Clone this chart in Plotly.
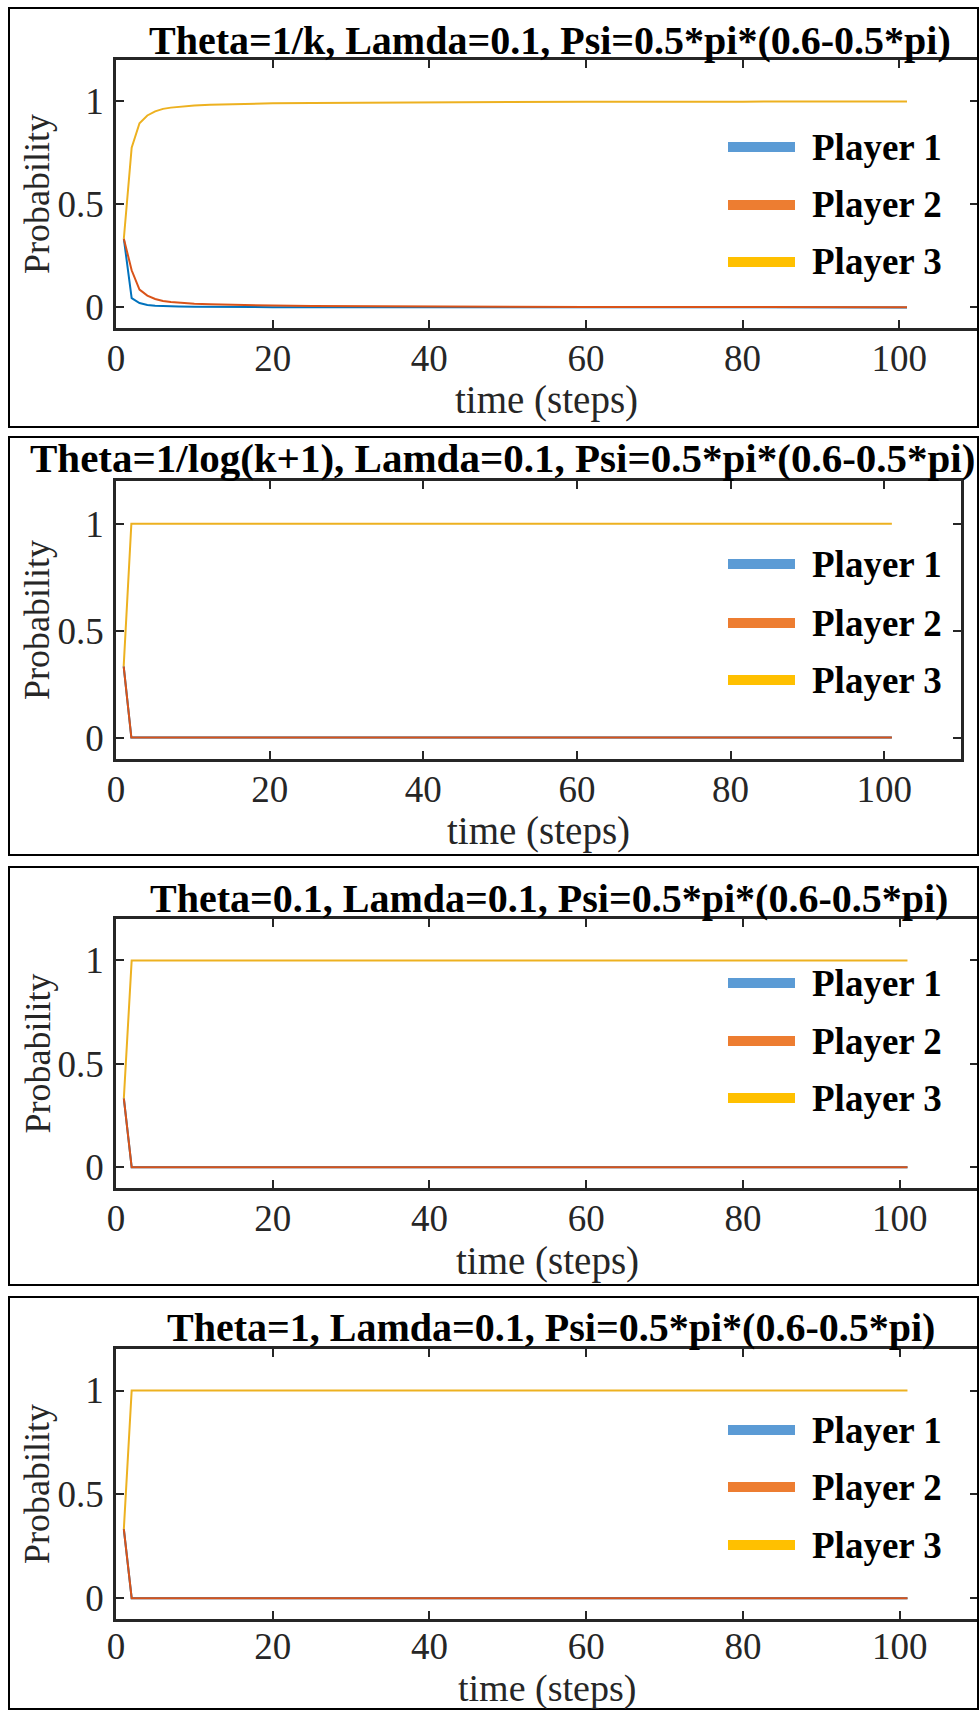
import plotly.graph_objects as go

# ---------------- data ----------------
steps_p1 = [1, 2, 3, 4, 5, 6, 7, 8, 10, 12, 15, 20, 25, 30, 40, 50, 60, 80, 101]
player1_p1 = [0.333, 0.045, 0.021, 0.012, 0.008, 0.006, 0.005, 0.004, 0.003, 0.002,
              0.002, 0.001, 0.001, 0.001, 0.000, 0.000, 0.000, 0.000, 0.000]
player2_p1 = [0.333, 0.180, 0.086, 0.057, 0.041, 0.031, 0.026, 0.023, 0.018, 0.015,
              0.012, 0.009, 0.007, 0.006, 0.004, 0.003, 0.002, 0.002, 0.001]
player3_p1 = [0.333, 0.775, 0.893, 0.931, 0.951, 0.963, 0.969, 0.973, 0.979, 0.983,
              0.986, 0.990, 0.992, 0.993, 0.996, 0.997, 0.998, 0.998, 0.999]

# Panels 2-4: immediate convergence after the first step
steps_fast = [1, 2, 101]
player1_fast = [0.333, 0.0, 0.0]
player2_fast = [0.333, 0.0, 0.0]
player3_fast = [0.333, 1.0, 1.0]

titles = [
    "Theta=1/k, Lamda=0.1, Psi=0.5*pi*(0.6-0.5*pi)",
    "Theta=1/log(k+1), Lamda=0.1, Psi=0.5*pi*(0.6-0.5*pi)",
    "Theta=0.1, Lamda=0.1, Psi=0.5*pi*(0.6-0.5*pi)",
    "Theta=1, Lamda=0.1, Psi=0.5*pi*(0.6-0.5*pi)",
]
player_names = ["Player 1", "Player 2", "Player 3"]
x_tick_vals = [0, 20, 40, 60, 80, 100]
y_tick_vals = [0, 0.5, 1]
y_tick_text = ["0", "0.5", "1"]
x_label = "time (steps)"
y_label = "Probability"

panel_series = [
    (steps_p1, [player1_p1, player2_p1, player3_p1]),
    (steps_fast, [player1_fast, player2_fast, player3_fast]),
    (steps_fast, [player1_fast, player2_fast, player3_fast]),
    (steps_fast, [player1_fast, player2_fast, player3_fast]),
]

# ---------------- style / layout ----------------
W, H = 979, 1710
def px(x):
    return x / W
def py(y):
    return 1 - y / H

line_colors = ["#0072BD", "#D95319", "#EDB120"]
legend_colors = ["#5B9BD5", "#ED7D31", "#FFC000"]
SERIF = "Liberation Serif, Times New Roman, serif"
AX = "#262626"

# pixel geometry of each panel: plot box (x0, x1, y0, y1), title pos/size, xlabel y/size,
# x tick label standoff, legend ys, frame y
panels = [
    dict(plot=(116, 977.5, 60, 328), title=(550, 40, 40), xlab=(400, 39), xstand=-4,
         leg=[147, 205, 262], frame=(8, 427)),
    dict(plot=(116, 961, 481, 759), title=(502, 458, 41), xlab=(831, 39), xstand=-4,
         leg=[564, 623, 680], frame=(437, 855)),
    dict(plot=(116, 978, 919, 1188), title=(549, 898, 40), xlab=(1261, 39), xstand=-4,
         leg=[983, 1041, 1098], frame=(867, 1285)),
    dict(plot=(116, 978, 1349, 1619), title=(551, 1327, 40), xlab=(1688, 38), xstand=-7,
         leg=[1430, 1487, 1545], frame=(1297, 1709)),
]

fig = go.Figure()
annotations = []
shapes = []
layout_axes = {}

for i, (pan, (xs, ys_list)) in enumerate(zip(panels, panel_series)):
    n = "" if i == 0 else str(i + 1)
    xa, ya = "x" + n, "y" + n
    for k, ys in enumerate(ys_list):
        fig.add_trace(go.Scatter(
            x=xs, y=ys, mode="lines", name=player_names[k],
            line=dict(color=line_colors[k], width=2),
            xaxis=xa, yaxis=ya, showlegend=False, hoverinfo="skip",
        ))
    x0, x1, y0, y1 = pan["plot"]
    common = dict(
        showline=True, linewidth=2.5, linecolor=AX, mirror="allticks",
        ticks="inside", ticklen=8, tickwidth=2, tickcolor=AX,
        showgrid=False, zeroline=False, automargin=False,
        tickfont=dict(family=SERIF, size=37, color=AX),
        fixedrange=True,
    )
    layout_axes["xaxis" + n] = dict(
        common, domain=[px(x0), px(x1)], range=[0, 110], tickmode="array",
        tickvals=x_tick_vals, anchor=ya, ticklabelstandoff=pan["xstand"],
    )
    layout_axes["yaxis" + n] = dict(
        common, domain=[py(y1), py(y0)], range=[-0.1, 1.2], tickmode="array",
        tickvals=y_tick_vals, ticktext=y_tick_text, anchor=xa, ticklabelstandoff=2,
    )
    # title
    tx, ty, tsize = pan["title"]
    annotations.append(dict(
        text="<b>%s</b>" % titles[i], x=px(tx), y=py(ty), xref="paper", yref="paper",
        xanchor="center", yanchor="middle", showarrow=False,
        font=dict(family=SERIF, size=tsize, color="black"),
    ))
    # x label
    xly, xls = pan["xlab"]
    annotations.append(dict(
        text=x_label, x=px((x0 + x1) / 2), y=py(xly), xref="paper", yref="paper",
        xanchor="center", yanchor="middle", showarrow=False,
        font=dict(family=SERIF, size=xls, color=AX),
    ))
    # y label
    annotations.append(dict(
        text=y_label, x=px(37), y=py((y0 + y1) / 2), xref="paper", yref="paper",
        xanchor="center", yanchor="middle", showarrow=False, textangle=-90,
        font=dict(family=SERIF, size=36, color=AX),
    ))
    # legend (line swatches + bold labels)
    for k, ly in enumerate(pan["leg"]):
        shapes.append(dict(
            type="line", xref="paper", yref="paper",
            x0=px(728), x1=px(795), y0=py(ly), y1=py(ly),
            line=dict(color=legend_colors[k], width=10),
        ))
        annotations.append(dict(
            text="<b>%s</b>" % player_names[k], x=px(810), y=py(ly), xref="paper", yref="paper",
            xanchor="left", yanchor="middle", showarrow=False,
            font=dict(family=SERIF, size=37, color="black"),
        ))
    # outer frame of the panel
    fy0, fy1 = pan["frame"]
    shapes.append(dict(
        type="rect", xref="paper", yref="paper",
        x0=px(9), x1=px(978), y0=py(fy1), y1=py(fy0),
        line=dict(color="black", width=2), fillcolor="rgba(0,0,0,0)",
    ))

fig.update_layout(
    width=W, height=H,
    margin=dict(l=0, r=0, t=0, b=0),
    paper_bgcolor="white", plot_bgcolor="white",
    showlegend=False,
    annotations=annotations, shapes=shapes,
    **layout_axes,
)

fig.write_html("out.html", config={"displayModeBar": False})
